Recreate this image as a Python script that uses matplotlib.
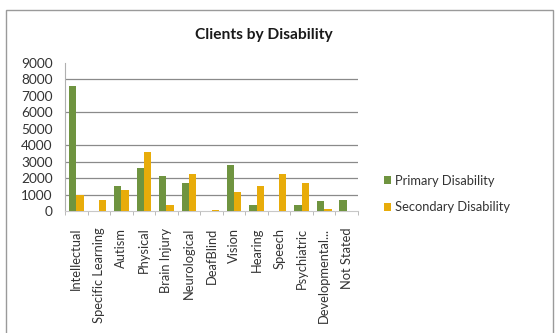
import matplotlib
matplotlib.use("Agg")
import matplotlib.pyplot as plt
import numpy as np
from matplotlib.patches import Rectangle

categories = ["Intellectual", "Specific Learning", "Autism", "Physical", "Brain Injury",
              "Neurological", "DeafBlind", "Vision", "Hearing", "Speech", "Psychiatric",
              "Developmental...", "Not Stated"]
primary = [7620, 0, 1520, 2600, 2150, 1690, 0, 2780, 350, 0, 350, 590, 670]
secondary = [980, 670, 1280, 3560, 370, 2250, 80, 1150, 1540, 2250, 1700, 120, 0]
series_names = ["Primary Disability", "Secondary Disability"]
y_ticks = [0, 1000, 2000, 3000, 4000, 5000, 6000, 7000, 8000, 9000]
grid_values = [1000, 2000, 3000, 4000, 6000, 8000]

plt.rcParams["font.family"] = ["Lato", "DejaVu Sans"]

fig = plt.figure(figsize=(5.55, 3.33), dpi=100)
fig.patch.set_facecolor("white")
fig.patches.append(Rectangle((6 / 555, -0.05), 547 / 555, 1 - 10 / 333 + 0.05,
                             transform=fig.transFigure, fill=False,
                             edgecolor="#9a9a9a", linewidth=1.0))

ax = fig.add_axes([65 / 555, 1 - 211 / 333, (358 - 65) / 555, (211 - 63) / 333])
x = np.arange(len(categories))
w = 0.325
green = "#6f9440"
gold = "#e8ac0a"
ax.bar(x - w / 2, primary, width=w, color=green, label=series_names[0], zorder=3)
ax.bar(x + w / 2, secondary, width=w, color=gold, label=series_names[1], zorder=3)

for g in grid_values:
    ax.axhline(g, color="#8a8a8a", linewidth=0.9, zorder=1)

ax.set_xlim(-0.5, len(categories) - 0.5)
ax.set_ylim(0, 9000)
ax.set_yticks(y_ticks)
ax.set_yticklabels([str(v) for v in y_ticks], fontsize=9.8, color="#333333")
ax.tick_params(axis="y", length=0, pad=9)
ax.set_xticks(x)
ax.set_xticklabels(categories, rotation=90, fontsize=9.3, color="#333333")
ax.tick_params(axis="x", length=0, pad=12)
ax.set_xticks(np.arange(len(categories) + 1) - 0.5, minor=True)
ax.tick_params(axis="x", which="minor", length=3, color="#b0b0b0", direction="out")

for s in ["top", "right"]:
    ax.spines[s].set_visible(False)
ax.spines["left"].set_color("#b0b0b0")
ax.spines["bottom"].set_color("#c8c8c8")

fig.text(264 / 555, 1 - 35 / 333, "Clients by Disability", ha="center", va="center",
         fontsize=11.2, fontweight="bold", color="#1a1a1a")

leg = fig.legend(loc="center left", bbox_to_anchor=(372 / 555, 1 - 194 / 333),
                 frameon=False, fontsize=9.3, handlelength=0.6, handleheight=0.6,
                 handletextpad=0.25, labelspacing=1.15)
for t in leg.get_texts():
    t.set_color("#333333")

fig.savefig("out.png", dpi=100, facecolor="white")
